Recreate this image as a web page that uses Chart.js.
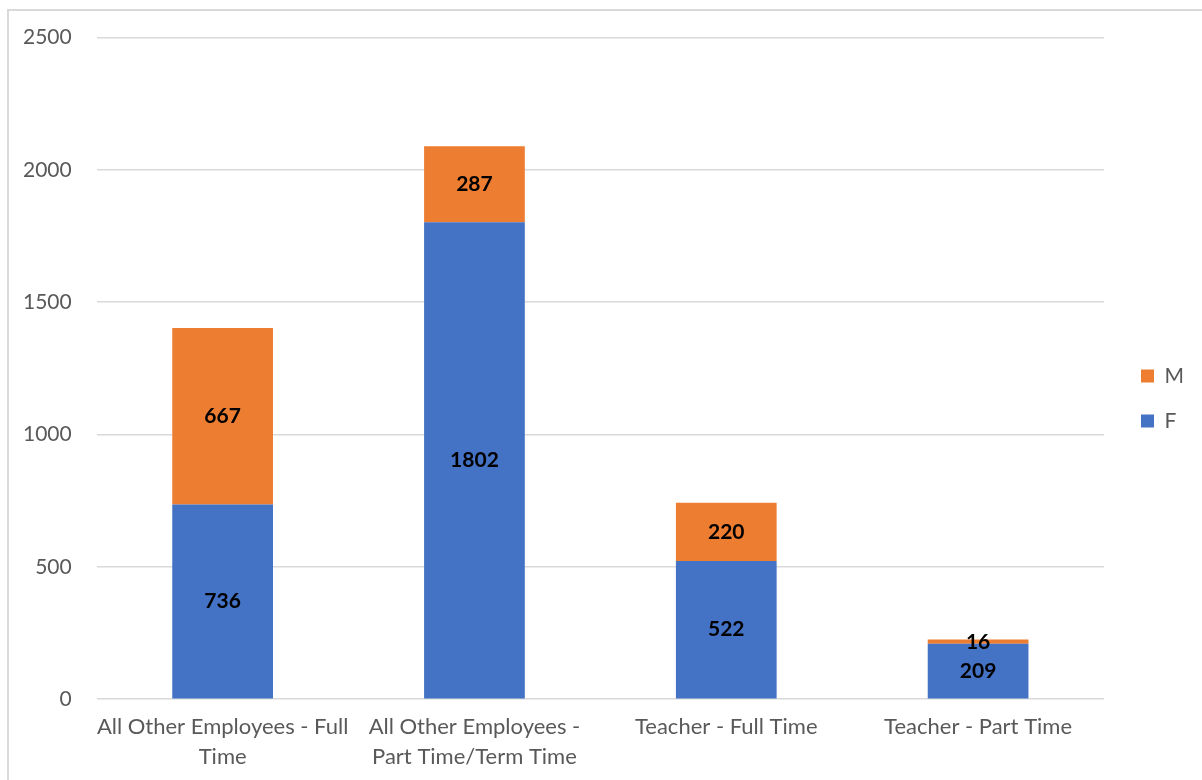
<!DOCTYPE html>
<html>
<head>
<meta charset="utf-8">
<script src="https://cdn.jsdelivr.net/npm/chart.js@4.4.1/dist/chart.umd.min.js"></script>
<style>
  html, body { margin: 0; padding: 0; background: #fff; overflow: hidden; }
  .frame { position: absolute; left: 7px; top: 9px; width: 1400px; height: 1000px;
           border-left: 2px solid #d9d9d9; border-top: 2px solid #d9d9d9; }
  #staffChart { position: absolute; left: 0; top: 0; }
</style>
</head>
<body>
<div class="frame"></div>
<canvas id="staffChart" width="1202" height="780"></canvas>
<script>
// Staff by role and gender — stacked columns

const categories = [
  ['All Other Employees - Full', 'Time'],
  ['All Other Employees -', 'Part Time/Term Time'],
  'Teacher - Full Time',
  'Teacher - Part Time',
];
const femaleValues = [736, 1802, 522, 209];
const maleValues = [667, 287, 220, 16];
const yTicks = [0, 500, 1000, 1500, 2000, 2500];

const FONT = 'Lato, "Open Sans", sans-serif';
const GREY_TEXT = '#595959';

// ─── Value labels inside each segment ──────────────────────────────────────

const segmentLabels = {
  id: 'segmentLabels',
  afterDatasetsDraw(chart) {
    const { ctx } = chart;
    ctx.save();
    ctx.font = `bold 21px ${FONT}`;
    ctx.fillStyle = '#000';
    ctx.textAlign = 'center';
    ctx.textBaseline = 'middle';
    chart.data.datasets.forEach((ds, i) => {
      const meta = chart.getDatasetMeta(i);
      meta.data.forEach((bar, j) => {
        const mid = (bar.y + bar.base) / 2;
        ctx.fillText(String(ds.data[j]), bar.x, mid);
      });
    });
    ctx.restore();
  },
};

// nudge the legend box a little further from the plot, like the original
const legendNudge = {
  id: 'legendNudge',
  afterLayout(chart) {
    const lg = chart.legend;
    if (!lg) return;
    lg.left += 13; lg.right += 13;
    lg.top -= 7; lg.bottom -= 7;
  },
};

new Chart(document.getElementById('staffChart'), {
  type: 'bar',
  data: {
    labels: categories,
    datasets: [
      {
        label: 'F',
        data: femaleValues,
        backgroundColor: '#4472C4',
        categoryPercentage: 0.8,
        barPercentage: 0.5,
      },
      {
        label: 'M',
        data: maleValues,
        backgroundColor: '#ED7D31',
        categoryPercentage: 0.8,
        barPercentage: 0.5,
      },
    ],
  },
  options: {
    responsive: false,
    animation: false,
    layout: { padding: { left: -2, top: 34, right: 21, bottom: 3 } },
    plugins: {
      legend: {
        position: 'right',
        reverse: true,
        labels: {
          boxWidth: 13,
          boxHeight: 13,
          padding: 24,
          color: GREY_TEXT,
          font: { family: FONT, size: 21 },
        },
      },
      tooltip: { enabled: false },
    },
    scales: {
      x: {
        stacked: true,
        grid: { display: false },
        border: { display: false },
        ticks: {
          color: GREY_TEXT,
          font: { family: FONT, size: 22, lineHeight: 1.36 },
          padding: 5,
          maxRotation: 0,
          autoSkip: false,
        },
      },
      y: {
        stacked: true,
        min: 0,
        max: 2500,
        afterBuildTicks: axis => { axis.ticks = yTicks.map(v => ({ value: v })); },
        grid: { color: '#d9d9d9', lineWidth: 1.5, drawTicks: false },
        border: { display: false },
        ticks: {
          color: GREY_TEXT,
          font: { family: FONT, size: 21 },
          padding: 25,
          callback: v => String(v),
        },
      },
    },
  },
  plugins: [segmentLabels, legendNudge],
});
</script>
</body>
</html>
